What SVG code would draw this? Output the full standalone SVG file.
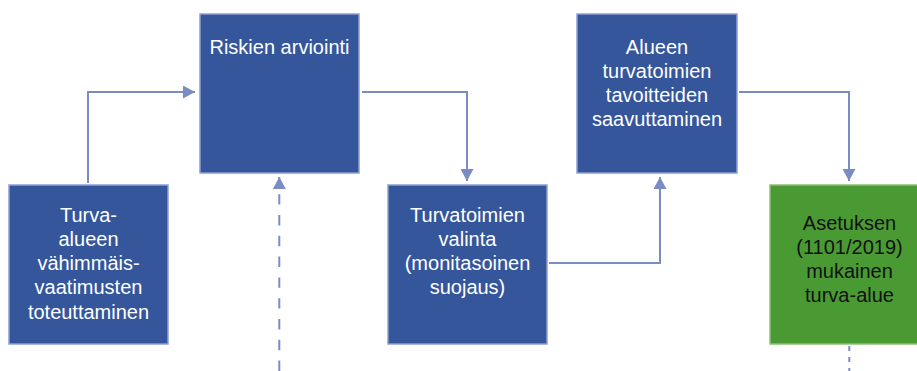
<svg xmlns="http://www.w3.org/2000/svg" width="917" height="371" viewBox="0 0 917 371">
<defs>
<style>
.box{fill:#35569b;stroke:#8d9fd2;stroke-width:1.5}
.green{fill:#4a9a34;stroke:#8fbf7a;stroke-width:1.5}
.t{font-family:"Liberation Sans",Arial,sans-serif;font-size:20px;fill:#ffffff;text-anchor:middle}
.dark{fill:#111111}
.c{fill:none;stroke:#7a8cc4;stroke-width:2}
.d{stroke-dasharray:10.4 10.4}
.d2{stroke-dasharray:5 6}
</style>
<marker id="ah" viewBox="0 0 12 13" refX="12" refY="6.5" markerWidth="12" markerHeight="13" markerUnits="userSpaceOnUse" orient="auto">
<path d="M0,0 L12,6.5 L0,13 Z" fill="#7a8cc4"/>
</marker>
</defs>
<rect width="917" height="371" fill="#ffffff"/>
<g id="connectors">
<path class="c" d="M88,183 V92 H195" marker-end="url(#ah)"/>
<path class="c" d="M362,92 H467 V181" marker-end="url(#ah)"/>
<path class="c" d="M549,263 H660 V177" marker-end="url(#ah)"/>
<path class="c" d="M739,92 H849 V181" marker-end="url(#ah)"/>
<path class="c d" d="M279.3,371 V177" marker-end="url(#ah)"/>
<path class="c d2" d="M849.3,346 V371"/>
</g>
<g id="node1">
<rect class="box" x="9" y="185" width="159" height="159"/>
<text class="t" x="88.5" y="222">Turva-</text>
<text class="t" x="88.5" y="246">alueen</text>
<text class="t" x="88.5" y="270">vähimmäis-</text>
<text class="t" x="88.5" y="294">vaatimusten</text>
<text class="t" x="88.5" y="319">toteuttaminen</text>
</g>
<g id="node2">
<rect class="box" x="200" y="14" width="159" height="159"/>
<text class="t" x="279.5" y="54">Riskien arviointi</text>
</g>
<g id="node3">
<rect class="box" x="388" y="185" width="159" height="159"/>
<text class="t" x="467.5" y="222">Turvatoimien</text>
<text class="t" x="467.5" y="246">valinta</text>
<text class="t" x="467.5" y="270">(monitasoinen</text>
<text class="t" x="467.5" y="294">suojaus)</text>
</g>
<g id="node4">
<rect class="box" x="577" y="14" width="160" height="159"/>
<text class="t" x="657" y="54">Alueen</text>
<text class="t" x="657" y="78">turvatoimien</text>
<text class="t" x="657" y="102">tavoitteiden</text>
<text class="t" x="657" y="126">saavuttaminen</text>
</g>
<g id="node5">
<rect class="green" x="770" y="185" width="159" height="159"/>
<text class="t dark" x="849.5" y="230">Asetuksen</text>
<text class="t dark" x="849.5" y="254">(1101/2019)</text>
<text class="t dark" x="849.5" y="278">mukainen</text>
<text class="t dark" x="849.5" y="302">turva-alue</text>
</g>
</svg>
